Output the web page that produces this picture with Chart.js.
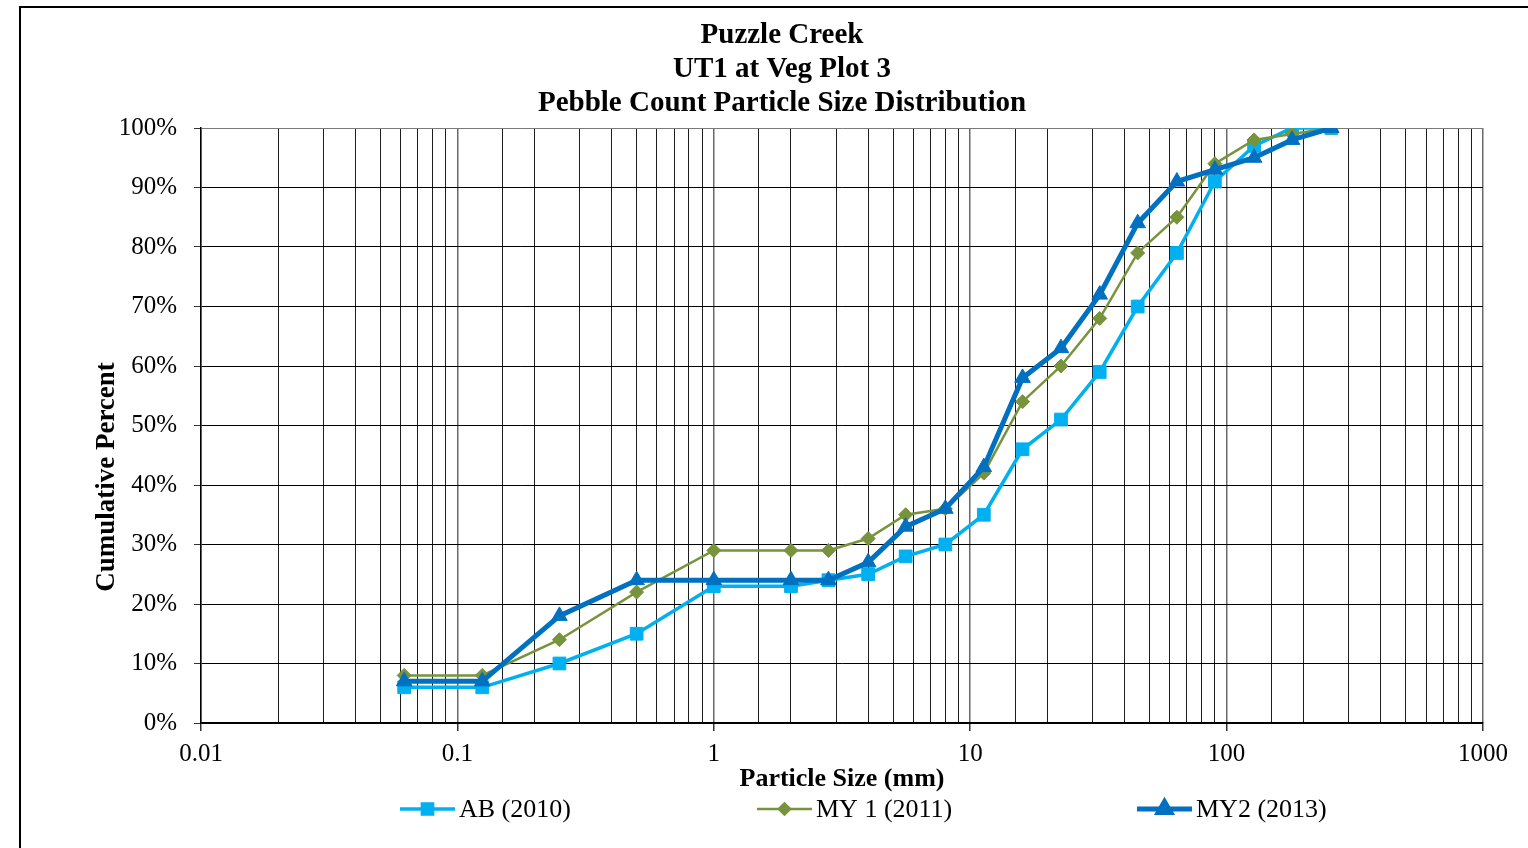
<!DOCTYPE html>
<html>
<head>
<meta charset="utf-8">
<title>Puzzle Creek – Pebble Count Particle Size Distribution</title>
<script src="https://cdn.jsdelivr.net/npm/chart.js@4.4.1/dist/chart.umd.min.js"></script>
<style>
  html, body { margin: 0; padding: 0; background: #ffffff; }
  #wrap { position: relative; width: 1528px; height: 848px; overflow: hidden; }
  canvas { display: block; }
</style>
</head>
<body>
<div id="wrap"><canvas id="chart" width="1528" height="848"></canvas></div>
<script>
// Sieve sizes (mm) used for the pebble count
const particleSizes = [0.062, 0.125, 0.25, 0.5, 1, 2, 2.8, 4, 5.6, 8, 11.3, 16, 22.6, 32, 45, 64, 90, 128, 180, 256];

// Cumulative percent finer, by survey year
const ab2010  = [6, 6, 10, 15, 23, 23, 24, 25, 28, 30, 35, 46, 51, 59, 70, 79, 91, 97, 100, 100];
const my1_2011 = [8, 8, 14, 22, 29, 29, 29, 31, 35, 36, 42, 54, 60, 68, 79, 85, 94, 98, 99, 100];
const my2_2013 = [7, 7, 18, 24, 24, 24, 24, 27, 33, 36, 43, 58, 63, 72, 84, 91, 93, 95, 98, 100];

const seriesNames = ['AB (2010)', 'MY 1 (2011)', 'MY2 (2013)'];

// Axis tick labels
const xTickLabels = ['0.01', '0.1', '1', '10', '100', '1000'];
const yTickLabels = ['0%', '10%', '20%', '30%', '40%', '50%', '60%', '70%', '80%', '90%', '100%'];

const titleLines = ['Puzzle Creek', 'UT1 at Veg Plot 3', 'Pebble Count Particle Size Distribution'];
const xAxisTitle = 'Particle Size (mm)';
const yAxisTitle = 'Cumulative Percent';

const SERIF = '"Liberation Serif", "Times New Roman", Times, serif';

function toPoints(values) {
  return particleSizes.map((x, i) => ({ x: x, y: values[i] }));
}

// Titles, axis titles, outer frame and the spread-out legend
const decorations = {
  id: 'decorations',
  beforeDraw(chart) {
    const ctx = chart.ctx;
    ctx.save();
    ctx.fillStyle = '#ffffff';
    ctx.fillRect(0, 0, chart.width, chart.height);
    ctx.restore();
  },
  afterDraw(chart) {
    const ctx = chart.ctx;
    const area = chart.chartArea;
    ctx.save();

    // outer frame
    ctx.strokeStyle = '#000000';
    ctx.lineWidth = 2;
    ctx.strokeRect(20, 7, 1600, 1000);

    // chart title
    ctx.fillStyle = '#000000';
    ctx.textAlign = 'center';
    ctx.textBaseline = 'middle';
    ctx.font = 'bold 29px ' + SERIF;
    titleLines.forEach((t, i) => ctx.fillText(t, 782, 36 + i * 34));

    // x axis title
    ctx.font = 'bold 26px ' + SERIF;
    ctx.fillText(xAxisTitle, (area.left + area.right) / 2, 779);

    // y axis title
    ctx.save();
    ctx.font = 'bold 27px ' + SERIF;
    ctx.translate(107, 477);
    ctx.rotate(-Math.PI / 2);
    ctx.fillText(yAxisTitle, 0, 0);
    ctx.restore();

    // legend
    const legendX = [400, 757, 1137];
    const legendY = 809;
    const sample = 55;
    ctx.font = '26px ' + SERIF;
    ctx.textAlign = 'left';
    chart.data.datasets.forEach((ds, i) => {
      const x0 = legendX[i];
      ctx.strokeStyle = ds.borderColor;
      ctx.lineWidth = ds.borderWidth;
      ctx.beginPath();
      ctx.moveTo(x0, legendY);
      ctx.lineTo(x0 + sample, legendY);
      ctx.stroke();
      ctx.fillStyle = ds.pointBackgroundColor;
      ctx.strokeStyle = ds.pointBorderColor;
      Chart.helpers.drawPoint(ctx, {
        pointStyle: ds.pointStyle,
        radius: ds.pointRadius * 0.8,
        rotation: 0,
        borderWidth: 1
      }, x0 + sample / 2, legendY);
      ctx.fillStyle = '#000000';
      ctx.fillText(ds.label, x0 + sample + 4, legendY + 1);
    });

    ctx.restore();
  }
};

new Chart(document.getElementById('chart'), {
  type: 'line',
  data: {
    datasets: [
      {
        label: seriesNames[0],
        data: toPoints(ab2010),
        borderColor: '#00B0F0',
        backgroundColor: '#00B0F0',
        pointBackgroundColor: '#00B0F0',
        pointBorderColor: '#00B0F0',
        borderWidth: 3.5,
        pointStyle: 'rect',
        pointRadius: 9,
        pointBorderWidth: 1,
        order: 2
      },
      {
        label: seriesNames[1],
        data: toPoints(my1_2011),
        borderColor: '#77933C',
        backgroundColor: '#77933C',
        pointBackgroundColor: '#77933C',
        pointBorderColor: '#77933C',
        borderWidth: 2.5,
        pointStyle: 'rectRot',
        pointRadius: 7,
        pointBorderWidth: 1,
        order: 1
      },
      {
        label: seriesNames[2],
        data: toPoints(my2_2013),
        borderColor: '#0070C0',
        backgroundColor: '#0070C0',
        pointBackgroundColor: '#0070C0',
        pointBorderColor: '#0070C0',
        borderWidth: 5,
        pointStyle: 'triangle',
        pointRadius: 9,
        pointBorderWidth: 1,
        order: 0
      }
    ]
  },
  options: {
    responsive: false,
    animation: false,
    devicePixelRatio: 1,
    layout: { padding: { top: 128, left: 0, right: 45, bottom: 0 } },
    plugins: {
      legend: { display: false },
      title: { display: false },
      tooltip: { enabled: false }
    },
    elements: { line: { tension: 0 } },
    scales: {
      x: {
        type: 'logarithmic',
        min: 0.01,
        max: 1000,
        afterFit(scale) { scale.height = 125; },
        border: { display: true, color: '#000000', width: 1.5 },
        grid: {
          drawOnChartArea: true,
          drawTicks: true,
          tickLength: 8,
          color: (c) => (c.tick && c.tick.major ? '#6a6a6a' : '#1e1e1e'),
          lineWidth: (c) => (c.tick && c.tick.major ? 1.5 : 1),
          tickColor: (c) => (c.tick && c.tick.major ? '#333333' : 'rgba(0,0,0,0)')
        },
        ticks: {
          autoSkip: false,
          maxRotation: 0,
          padding: 8,
          color: '#000000',
          font: { family: SERIF, size: 25 },
          callback: function (value) {
            const e = Math.log10(value);
            const r = Math.round(e);
            if (Math.abs(e - r) > 1e-6) return '';
            const idx = r + 2;
            return idx >= 0 && idx < xTickLabels.length ? xTickLabels[idx] : '';
          }
        }
      },
      y: {
        type: 'linear',
        min: 0,
        max: 100,
        afterFit(scale) { scale.width = 201; },
        border: { display: true, color: '#000000', width: 1.5 },
        grid: {
          color: (c) => (c.tick && c.tick.value === 100 ? '#7a7a7a' : '#000000'),
          lineWidth: 1,
          tickLength: 7,
          tickColor: '#333333'
        },
        ticks: {
          stepSize: 10,
          padding: 17,
          color: '#000000',
          font: { family: SERIF, size: 25 },
          callback: (value) => yTickLabels[Math.round(value / 10)]
        }
      }
    }
  },
  plugins: [decorations]
});
</script>
</body>
</html>
